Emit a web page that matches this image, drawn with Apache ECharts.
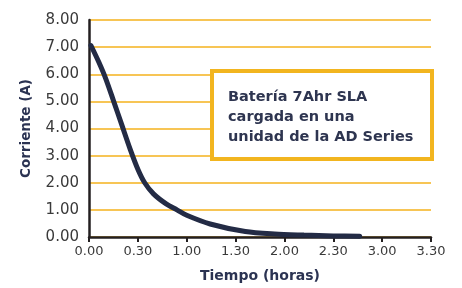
<!DOCTYPE html>
<html style="height: 100%">
<head>
    <meta charset="utf-8">
</head>
<body style="height: 100%; margin: 0; background: #fff">
<div id="container" style="width: 462px; height: 288px"></div>

<script type="text/javascript" src="https://cdn.jsdelivr.net/npm/echarts@6/dist/echarts.min.js"></script>
<script type="text/javascript">
    // tiempo en horas (decimal), corriente en amperios
    var tiempo = [0.02, 0.1, 0.17, 0.25, 0.334, 0.42, 0.5, 0.57, 0.66, 0.79, 0.9, 1.0, 1.24, 1.6, 1.9, 2.2, 2.5, 2.77];
    var corriente = [7.06, 6.45, 5.85, 5.03, 4.15, 3.25, 2.5, 2.0, 1.59, 1.22, 1.0, 0.8, 0.48, 0.2, 0.11, 0.07, 0.04, 0.03];
    var yTicks = [0, 1, 2, 3, 4, 5, 6, 7, 8];
    var xTicks = ['0.00', '0.30', '1.00', '1.30', '2.00', '2.30', '3.00', '3.30'];
    var notaLineas = ['Batería 7Ahr SLA', 'cargada en una', 'unidad de la AD Series'];

    var serieData = tiempo.map(function (t, i) { return [t, corriente[i]]; });

    var dom = document.getElementById("container");
    var myChart = echarts.init(dom);
    var option;

    option = {
        animation: false,
        grid: {
            left: 89,
            right: 31,
            top: 20,
            bottom: 49
        },
        xAxis: {
            type: 'value',
            min: 0,
            max: 3.5,
            interval: 0.5,
            name: 'Tiempo (horas)',
            nameLocation: 'middle',
            nameGap: 32,
            nameTextStyle: {
                color: '#2b3352',
                fontFamily: 'DejaVu Sans',
                fontWeight: 'bold',
                fontSize: 14
            },
            axisLine: { lineStyle: { color: '#231f20', width: 2.5 } },
            axisTick: { show: true, length: 5, lineStyle: { color: '#231f20', width: 2 } },
            axisLabel: {
                color: '#3a3a3a',
                fontFamily: 'DejaVu Sans',
                fontSize: 13,
                margin: 8,
                formatter: function (v) { return xTicks[Math.round(v / 0.5)]; }
            },
            splitLine: { show: false }
        },
        yAxis: {
            type: 'value',
            min: 0,
            max: 8,
            interval: 1,
            name: 'Corriente (A)',
            nameLocation: 'middle',
            nameRotate: 90,
            nameGap: 56,
            nameTextStyle: {
                color: '#2b3352',
                fontFamily: 'DejaVu Sans',
                fontWeight: 'bold',
                fontSize: 13.5
            },
            axisLine: { show: true, lineStyle: { color: '#231f20', width: 2.5 } },
            axisTick: { show: false },
            axisLabel: {
                color: '#3a3a3a',
                fontFamily: 'DejaVu Sans',
                fontSize: 15,
                margin: 10,
                formatter: function (v) { return yTicks[v].toFixed(2); }
            },
            splitLine: { lineStyle: { color: '#f5b21c', width: 1.5 } }
        },
        series: [{
            type: 'line',
            data: serieData,
            smooth: 0.3,
            showSymbol: false,
            lineStyle: { color: '#232b45', width: 5, cap: 'round' },
            z: 3
        }],
        graphic: [{
            type: 'rect',
            left: 210,
            top: 69,
            shape: { width: 220, height: 88 },
            style: { fill: '#fff', stroke: '#f2b51f', lineWidth: 4 },
            z: 10
        }, {
            type: 'text',
            left: 228,
            top: 87,
            style: {
                text: notaLineas.join('\n'),
                fill: '#2e3550',
                font: 'bold 14.5px "DejaVu Sans"',
                lineHeight: 20
            },
            z: 11
        }]
    };

    myChart.setOption(option);
</script>
</body>
</html>
